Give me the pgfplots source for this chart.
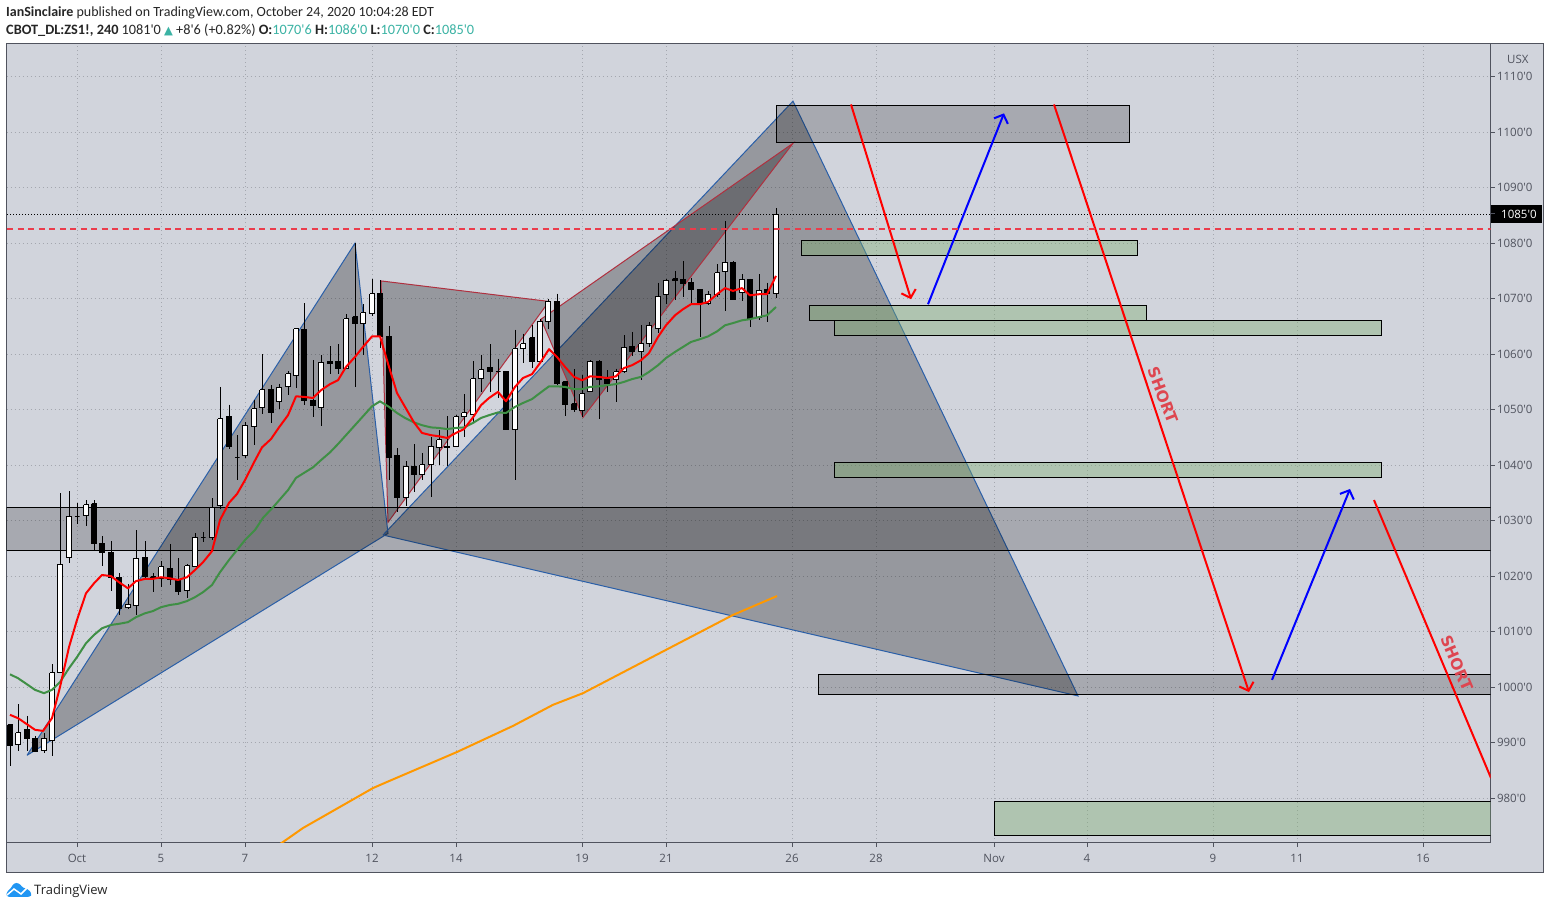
\documentclass[border=0pt]{standalone}
\usepackage{fontspec}
\usepackage{pgfplots}
\pgfplotsset{compat=1.18}
\usetikzlibrary{arrows.meta}
\setmainfont{Open Sans}
\newfontfamily\hdr{Carlito}
\newfontfamily\ax{Open Sans}
\newfontfamily\dv{DejaVu Sans}
\definecolor{bg}{HTML}{D1D4DC}
\definecolor{axc}{HTML}{50535E}
\definecolor{grd}{HTML}{A4A7AF}
\definecolor{teal2}{HTML}{3BB3A4}
\definecolor{shapeblue}{HTML}{2A5FA8}
\definecolor{shapered}{HTML}{B0303F}
\definecolor{zonegreen}{RGB}{126,174,110}
\definecolor{magreen}{HTML}{3F8F45}
\definecolor{orangeline}{HTML}{FF9800}
\definecolor{shorttxt}{HTML}{DE4650}
\definecolor{tvblue}{HTML}{2196F3}
\definecolor{dashred}{RGB}{235,60,75}
% candle: x, high, body top, body bottom, low
\newcommand\candle[6]{%
  \pgfmathsetmacro\xa{#2-2.5}\pgfmathsetmacro\xb{#2+2.5}%
  \addplot[draw=black,line width=1pt] coordinates {(#2,#3)(#2,#6)};%
  \edef\tmp{\noexpand\addplot[draw=black,fill=#1,line width=1pt] coordinates {(\xa,#4)(\xb,#4)(\xb,#5)(\xa,#5)(\xa,#4)};}\tmp}
\newcommand\up[5]{\candle{white}{#1}{#2}{#3}{#4}{#5}}
\newcommand\dn[5]{\candle{black}{#1}{#2}{#3}{#4}{#5}}
\newcommand\zone[6]{\addplot[draw=black,line width=1pt,fill=#5,fill opacity=#6] coordinates {(#1,#3)(#2,#3)(#2,#4)(#1,#4)(#1,#3)};}
\begin{document}
\begin{tikzpicture}[x=1pt,y=1pt]
\useasboundingbox (0,0) rectangle (1550,909);
\fill[white] (0,0) rectangle (1550,909);
\fill[bg] (7,37) rectangle (1543,865);
\draw[axc,line width=1pt] (6.5,36.5) rectangle (1543.5,865);
\begin{axis}[
  at={(6.5pt,66pt)},anchor=south west,
  width=1484pt,height=799pt,scale only axis,
  xmin=6.5,xmax=1490.5,ymin=971.9,ymax=1115.9,
  axis line style={axc,line width=1pt},
  tick style={axc,line width=1pt},
  major tick length=4pt,tick align=outside,
  ytick pos=right,xtick pos=bottom,
  yticklabel pos=right,
  xtick={77,161,245,372,456,582,666,792,876,994,1087,1213,1297,1423},
  xticklabels={Oct,5,7,12,14,19,21,26,28,Nov,4,9,11,16},
  ytick={980,990,...,1110},
  yticklabels={980'0,990'0,1000'0,1010'0,1020'0,1030'0,1040'0,1050'0,1060'0,1070'0,1080'0,1090'0,1100'0,1110'0},
  ticklabel style={font=\ax\fontsize{11.5}{13}\selectfont,text=axc},
  xticklabel style={yshift=-4pt},
  yticklabel style={xshift=-1pt,anchor=west},
  grid=major,
  major grid style={grd,line width=1pt,dash pattern=on 1pt off 3pt},
  axis on top=false,
]
% harmonic patterns
\addplot[draw=shapeblue,line width=1pt,fill=black,fill opacity=.28] coordinates {(27,987.7)(355,1080.0)(388,1027.7)(27,987.7)};
\addplot[draw=shapeblue,line width=1pt,fill=black,fill opacity=.28] coordinates {(383,1027.4)(793,1105.6)(1078,998.4)(383,1027.4)};
\addplot[draw=shapered,line width=1pt,fill=black,fill opacity=.28] coordinates {(381,1073.2)(549,1069.5)(388,1029.7)(381,1073.2)};
\addplot[draw=shapered,line width=1pt,fill=black,fill opacity=.28] coordinates {(541,1066.3)(583,1048.6)(793,1098.0)(541,1066.3)};
% zones
\zone{776}{1129}{1104.9}{1098.2}{black}{.2}
\zone{801}{1137}{1080.5}{1077.8}{zonegreen}{.4}
\zone{809}{1146}{1068.8}{1066.1}{zonegreen}{.4}
\zone{834}{1381}{1066.1}{1063.4}{zonegreen}{.4}
\zone{834}{1381}{1040.5}{1037.8}{zonegreen}{.4}
\zone{6}{1492}{1032.4}{1024.7}{black}{.2}
\zone{818}{1492}{1002.2}{998.6}{black}{.2}
\zone{994}{1492}{979.3}{973.2}{zonegreen}{.4}
% price line
\addplot[draw=black,line width=1pt,dash pattern=on 1pt off 2pt] coordinates {(7,1085.2)(1491,1085.2)};
% candles
\dn{10}{993.2}{993.2}{989.4}{985.8}
\up{18}{996.9}{991.8}{989.7}{988.5}
\dn{27}{994.8}{992.4}{990.7}{988.5}
\dn{35}{991.2}{990.8}{988.3}{988.3}
\up{44}{991.7}{990.8}{988.6}{988.2}
\up{52}{1004.1}{1002.6}{990.4}{987.6}
\up{60}{1034.9}{1022.1}{1002.6}{1002.6}
\up{69}{1035.3}{1030.8}{1023.3}{1022.4}
\up{77}{1033.1}{1030.8}{1030.8}{1029.4}
\up{86}{1033.7}{1032.9}{1030.9}{1029.1}
\dn{94}{1033.7}{1033.0}{1025.8}{1024.7}
\dn{102}{1027.2}{1025.9}{1024.3}{1021.8}
\dn{111}{1026.3}{1024.3}{1019.8}{1017.3}
\dn{119}{1020.5}{1019.8}{1014.1}{1013.0}
\up{128}{1018.5}{1014.9}{1014.3}{1014.0}
\up{136}{1028.3}{1023.2}{1014.7}{1013.0}
\dn{145}{1026.3}{1023.4}{1020.0}{1019.7}
\dn{153}{1020.5}{1019.9}{1019.5}{1017.2}
\up{161}{1022.7}{1021.7}{1019.5}{1018.1}
\dn{170}{1025.8}{1021.4}{1019.3}{1018.4}
\dn{178}{1023.2}{1019.3}{1017.2}{1016.6}
\up{187}{1022.1}{1021.9}{1017.4}{1016.0}
\up{195}{1027.7}{1027.0}{1021.7}{1021.7}
\up{203}{1027.9}{1027.0}{1027.0}{1026.2}
\candle{bg}{212}{1034.0}{1032.3}{1027.0}{1026.5}
\up{220}{1054.1}{1048.4}{1032.7}{1032.1}
\dn{229}{1050.9}{1048.8}{1043.3}{1042.9}
\up{237}{1045.4}{1041.3}{1041.3}{1037.3}
\up{245}{1047.7}{1047.2}{1041.7}{1041.3}
\up{254}{1051.7}{1050.2}{1046.9}{1043.6}
\up{262}{1060.0}{1053.6}{1050.4}{1049.3}
\dn{271}{1054.4}{1053.7}{1049.5}{1047.6}
\up{279}{1054.7}{1054.0}{1051.4}{1050.1}
\up{288}{1056.9}{1056.5}{1054.1}{1052.6}
\up{296}{1064.6}{1064.6}{1056.2}{1053.9}
\dn{304}{1069.2}{1064.5}{1051.6}{1050.9}
\dn{313}{1058.9}{1051.7}{1050.8}{1048.6}
\up{321}{1059.8}{1058.5}{1050.4}{1047.0}
\dn{330}{1061.4}{1058.7}{1058.4}{1056.5}
\dn{338}{1061.8}{1058.7}{1057.4}{1056.5}
\up{346}{1067.2}{1066.4}{1057.4}{1057.4}
\dn{355}{1080.0}{1066.7}{1065.6}{1054.1}
\up{363}{1069.0}{1067.5}{1065.5}{1059.8}
\up{372}{1073.6}{1070.9}{1067.4}{1066.9}
\dn{380}{1073.3}{1071.0}{1063.2}{1061.1}
\dn{389}{1065.0}{1063.2}{1041.3}{1037.3}
\dn{397}{1043.0}{1041.8}{1034.1}{1031.6}
\up{406}{1040.7}{1039.8}{1034.1}{1032.6}
\dn{414}{1043.8}{1039.8}{1038.4}{1035.2}
\up{422}{1042.2}{1040.1}{1038.4}{1037.4}
\up{431}{1045.0}{1043.4}{1040.1}{1034.3}
\up{439}{1046.3}{1044.6}{1043.2}{1040.0}
\dn{447}{1048.8}{1043.4}{1043.1}{1039.8}
\up{456}{1049.1}{1048.7}{1043.4}{1043.3}
\up{464}{1052.8}{1049.4}{1048.7}{1045.1}
\up{473}{1058.7}{1055.6}{1049.1}{1047.8}
\up{481}{1059.9}{1057.2}{1055.6}{1053.2}
\dn{490}{1061.8}{1057.6}{1056.8}{1053.2}
\up{498}{1059.2}{1056.9}{1056.9}{1052.1}
\dn{506}{1056.9}{1056.9}{1046.4}{1046.4}
\up{515}{1064.4}{1061.0}{1046.4}{1037.4}
\up{523}{1063.7}{1061.9}{1061.0}{1058.4}
\dn{532}{1065.2}{1063.0}{1058.6}{1057.5}
\up{540}{1066.4}{1065.9}{1058.6}{1058.6}
\up{548}{1070.0}{1069.5}{1065.9}{1064.5}
\dn{557}{1070.9}{1069.5}{1054.8}{1054.4}
\dn{565}{1055.0}{1055.0}{1050.9}{1048.9}
\dn{574}{1057.3}{1051.1}{1050.1}{1049.5}
\up{582}{1056.2}{1052.9}{1049.8}{1048.7}
\up{590}{1058.9}{1058.7}{1053.3}{1053.1}
\dn{599}{1058.9}{1058.7}{1055.4}{1048.3}
\dn{607}{1057.1}{1055.5}{1054.8}{1053.2}
\up{616}{1057.4}{1056.8}{1055.4}{1051.4}
\up{624}{1063.4}{1061.2}{1056.8}{1056.6}
\dn{632}{1064.0}{1061.4}{1060.4}{1059.6}
\up{641}{1065.2}{1061.9}{1060.4}{1055.3}
\up{649}{1065.8}{1065.2}{1061.9}{1061.3}
\up{658}{1072.9}{1070.4}{1064.6}{1063.8}
\up{666}{1073.6}{1073.3}{1070.8}{1069.0}
\dn{675}{1075.0}{1073.6}{1073.3}{1069.7}
\dn{683}{1076.8}{1073.5}{1072.7}{1070.3}
\dn{691}{1073.8}{1073.0}{1071.6}{1069.2}
\dn{700}{1071.7}{1071.7}{1069.2}{1063.1}
\up{708}{1071.4}{1070.8}{1069.1}{1068.9}
\up{717}{1076.2}{1074.7}{1070.8}{1070.3}
\up{725}{1084.0}{1076.6}{1074.9}{1067.7}
\dn{733}{1076.7}{1076.6}{1069.8}{1069.8}
\up{742}{1074.4}{1073.5}{1071.2}{1069.5}
\dn{750}{1073.6}{1073.5}{1066.5}{1064.9}
\up{759}{1074.4}{1071.5}{1066.6}{1066.2}
\dn{767}{1072.9}{1071.7}{1070.9}{1065.8}
\up{776}{1086.3}{1085.2}{1070.9}{1070.1}
% moving averages
\addplot[orangeline,line width=2pt,line join=round] coordinates {(280,971.7)(303,974.6)(373,981.8)(387,982.9)(457,988.3)(513,993.0)(553,996.8)(583,998.9)(667,1006.8)(733,1013.0)(777,1016.4)};
\addplot[magreen,line width=2pt,line join=round] coordinates {(10,1002.3)(18,1001.6)(27,1000.5)(35,999.5)(44,998.9)(52,999.5)(60,1000.9)(69,1003.4)(77,1005.4)(86,1007.9)(94,1009.4)(102,1010.6)(111,1011.2)(119,1011.4)(128,1011.7)(136,1012.6)(145,1013.3)(153,1013.7)(161,1014.4)(170,1014.8)(178,1015.0)(187,1015.5)(195,1016.2)(203,1017.1)(212,1018.4)(220,1020.7)(229,1022.9)(237,1024.7)(245,1026.5)(255,1028.3)(263,1030.5)(273,1032.4)(288,1035.5)(296,1037.7)(304,1038.6)(313,1039.6)(321,1040.9)(330,1042.3)(338,1043.8)(346,1045.4)(355,1047.2)(363,1048.8)(372,1050.6)(380,1051.5)(389,1050.5)(397,1049.4)(405,1048.5)(414,1047.7)(422,1047.2)(431,1046.8)(439,1046.7)(447,1046.5)(456,1046.7)(464,1046.8)(473,1047.6)(481,1048.5)(489,1049.0)(498,1049.5)(506,1049.4)(515,1050.5)(523,1051.2)(532,1051.9)(540,1053.0)(549,1054.2)(557,1054.2)(565,1054.1)(574,1053.7)(582,1053.7)(590,1054.1)(599,1054.2)(607,1054.4)(616,1054.6)(624,1055.0)(632,1055.5)(641,1055.9)(649,1056.8)(658,1058.0)(666,1059.3)(675,1060.4)(683,1061.3)(691,1062.2)(700,1062.7)(708,1063.2)(717,1064.1)(725,1065.2)(733,1065.6)(742,1066.1)(750,1066.3)(759,1066.7)(767,1067.0)(776,1068.5)};
\addplot[red,line width=2pt,line join=round] coordinates {(10,995.0)(18,994.4)(27,993.3)(35,992.3)(43,992.1)(52,994.4)(60,1000.0)(69,1007.2)(77,1012.1)(86,1016.9)(94,1018.7)(102,1020.2)(111,1020.0)(119,1018.9)(128,1017.8)(136,1019.1)(145,1019.5)(153,1019.5)(161,1019.8)(170,1019.6)(178,1019.3)(187,1019.8)(195,1021.1)(203,1022.5)(212,1024.5)(220,1030.1)(229,1033.2)(237,1034.8)(245,1037.3)(254,1040.5)(262,1043.2)(271,1044.7)(279,1046.8)(288,1049.0)(296,1052.4)(304,1052.3)(313,1052.1)(321,1053.5)(330,1054.6)(338,1055.3)(346,1057.7)(355,1059.5)(363,1061.3)(372,1063.2)(380,1063.2)(389,1057.7)(397,1053.0)(405,1050.5)(414,1047.7)(422,1045.8)(431,1045.4)(439,1045.2)(447,1044.9)(456,1045.8)(464,1046.5)(473,1048.6)(481,1050.8)(489,1052.1)(498,1053.2)(506,1051.5)(515,1054.1)(523,1055.7)(532,1056.4)(540,1058.4)(549,1060.9)(557,1059.5)(565,1057.7)(574,1055.9)(582,1055.3)(590,1056.0)(599,1055.9)(607,1055.7)(616,1056.0)(624,1057.5)(632,1058.0)(641,1058.9)(649,1060.2)(658,1063.1)(666,1065.2)(675,1067.0)(683,1068.1)(691,1069.0)(700,1069.0)(708,1069.4)(717,1070.8)(725,1071.9)(733,1071.4)(742,1071.9)(750,1070.6)(759,1070.8)(767,1070.8)(776,1074.1)};
% arrows
\addplot[red,line width=2pt,-{Straight Barb[length=7pt,width=15pt]}] coordinates {(851,1105.0)(911,1069.9)};
\addplot[blue,line width=2pt,-{Straight Barb[length=7pt,width=15pt]}] coordinates {(928,1069.0)(1004,1103.4)};
\addplot[red,line width=2pt,-{Straight Barb[length=7pt,width=15pt]}] coordinates {(1054,1105.0)(1249,999.1)};
\addplot[blue,line width=2pt,-{Straight Barb[length=7pt,width=15pt]}] coordinates {(1272,1001.3)(1350,1035.7)};
\addplot[red,line width=2pt] coordinates {(1374,1033.7)(1491,983.6)};
% second price line, dashed red
\addplot[draw=dashred,line width=2pt,dash pattern=on 6pt off 4.5pt] coordinates {(7,1082.5)(1491,1082.5)};
\node[rotate=-69,text=shorttxt,font=\dv\bfseries\fontsize{15.5}{18}\selectfont] at (axis cs:1163,1052.6) {SHORT};
\node[rotate=-67,text=shorttxt,font=\dv\bfseries\fontsize{15.5}{18}\selectfont] at (axis cs:1457,1004.3) {SHORT};
\end{axis}
% current-price tag
\fill[black] (1491,686) rectangle (1542,704);
\node[anchor=west,inner sep=0pt,text=white,font=\ax\fontsize{11.5}{13}\selectfont] at (1501,695) {1085'0};
\draw[axc,line width=1pt] (1491,695) -- (1495,695);
\node[anchor=west,inner sep=0pt,text=axc,font=\ax\fontsize{11.5}{13}\selectfont] at (1507,850) {USX};
% header
\node[anchor=base west,inner sep=0pt,text=black!85,font=\hdr\fontsize{14}{16}\selectfont] at (6,892) {\textbf{IanSinclaire} published on TradingView.com, October 24, 2020 10:04:28 EDT};
\node[anchor=base west,inner sep=0pt,text=black!85,font=\hdr\fontsize{14.3}{16}\selectfont] at (6,874.5) {\textbf{CBOT\_DL:ZS1!, 240}\hspace{3pt}1081'0 {\dv\color{teal2}\fontsize{11.5}{10}\selectfont ▲} +8'6 (+0.82\%) \textbf{O:}\textcolor{teal2}{1070'6} \textbf{H:}\textcolor{teal2}{1086'0} \textbf{L:}\textcolor{teal2}{1070'0} \textbf{C:}\textcolor{teal2}{1085'0}};
% footer
\fill[tvblue,rounded corners=2.5pt] (7,12) -- (6,16) -- (11,21) -- (14,26) -- (19,26) -- (23,21) -- (28,20) -- (32,15) -- (30,12) -- cycle;
\draw[white,line width=1.5pt] (7,14) -- (14,20) -- (21,15) -- (27,21);
\node[anchor=base west,inner sep=0pt,text=black!85,font=\ax\fontsize{13}{15}\selectfont] at (34,14) {TradingView};
\end{tikzpicture}
\end{document}
